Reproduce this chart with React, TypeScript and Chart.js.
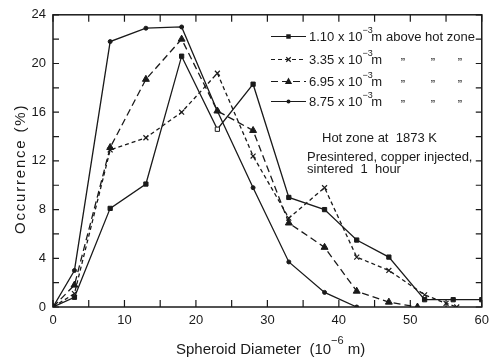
import React, { useEffect, useRef } from "react";
import { Chart, registerables } from "chart.js";

Chart.register(...registerables);

// Spheroid diameter (10^-6 m) and occurrence (%) for each distance above hot zone
const diam110 = [0, 3, 8, 13, 18, 23, 28, 33, 38, 42.5, 47, 52, 56, 60];
const occ110 = [0, 0.8, 8.1, 10.1, 20.6, 14.6, 18.3, 9.0, 8.0, 5.5, 4.1, 0.6, 0.6, 0.6];

const diam335 = [0, 3, 8, 13, 18, 23, 28, 33, 38, 42.5, 47, 52, 55, 56.5];
const occ335 = [0, 1.1, 12.9, 13.9, 16.0, 19.2, 12.4, 7.3, 9.8, 4.1, 3.0, 1.0, 0.3, 0];

const diam695 = [0, 3, 8, 13, 18, 23, 28, 33, 38, 42.5, 47, 51];
const occ695 = [0, 1.8, 13.1, 18.7, 22.0, 16.1, 14.5, 6.9, 4.9, 1.3, 0.4, 0];

const diam875 = [0, 3, 8, 13, 18, 23, 28, 33, 38, 42.5];
const occ875 = [0, 3.0, 21.8, 22.9, 23.0, 16.1, 9.8, 3.7, 1.2, 0];

const legendValues = ["1.10", "3.35", "6.95", "8.75"];
const yTickValues = [0, 4, 8, 12, 16, 20, 24];
const xTickValues = [0, 10, 20, 30, 40, 50, 60];

const INK = "#1a1a1a";
const FONT = "'Liberation Sans', Arial, sans-serif";

function pts(xs: number[], ys: number[]) {
  return xs.map((x, i) => ({ x, y: ys[i] }));
}

function drawMarker(ctx: CanvasRenderingContext2D, style: string, x: number, y: number, r: number) {
  ctx.save();
  ctx.fillStyle = INK;
  ctx.strokeStyle = INK;
  ctx.setLineDash([]);
  ctx.lineWidth = 1.2;
  ctx.beginPath();
  if (style === "rect") {
    const s = r * 1.4;
    ctx.rect(x - s / 2, y - s / 2, s, s);
    ctx.fill();
  } else if (style === "circle") {
    ctx.arc(x, y, r, 0, Math.PI * 2);
    ctx.fill();
  } else if (style === "triangle") {
    ctx.moveTo(x, y - r);
    ctx.lineTo(x + r * 0.9, y + r * 0.6);
    ctx.lineTo(x - r * 0.9, y + r * 0.6);
    ctx.closePath();
    ctx.fill();
  } else if (style === "crossRot") {
    const d = r * 0.7;
    ctx.moveTo(x - d, y - d);
    ctx.lineTo(x + d, y + d);
    ctx.moveTo(x + d, y - d);
    ctx.lineTo(x - d, y + d);
    ctx.stroke();
  }
  ctx.restore();
}

const decorPlugin = {
  id: "decor",
  afterDraw(chart: any) {
    const ctx: CanvasRenderingContext2D = chart.ctx;
    const { left, right, top, bottom } = chart.chartArea;
    const xs = chart.scales.x;
    const ys = chart.scales.y;
    ctx.save();
    ctx.strokeStyle = INK;
    ctx.lineWidth = 1.5;
    ctx.setLineDash([]);
    ctx.strokeRect(left, top, right - left, bottom - top);
    ctx.lineWidth = 1.2;
    ctx.beginPath();
    for (let v = 0; v <= 24; v += 2) {
      const y = ys.getPixelForValue(v);
      ctx.moveTo(left, y);
      ctx.lineTo(left + 6, y);
      ctx.moveTo(right, y);
      ctx.lineTo(right - 6, y);
    }
    for (let v = 0; v <= 60; v += 5) {
      const x = xs.getPixelForValue(v);
      ctx.moveTo(x, bottom);
      ctx.lineTo(x, bottom - 7);
      ctx.moveTo(x, top);
      ctx.lineTo(x, top + 7);
    }
    ctx.stroke();

    ctx.fillStyle = INK;
    ctx.textBaseline = "alphabetic";
    ctx.textAlign = "left";

    // X title with superscript
    const mainFont = `15px ${FONT}`;
    const supFont = `11px ${FONT}`;
    ctx.font = mainFont;
    const p1 = "Spheroid Diameter  (10";
    const p2 = "\u22126";
    const p3 = " m)";
    const w1 = ctx.measureText(p1).width;
    ctx.font = supFont;
    const w2 = ctx.measureText(p2).width;
    let tx = 176;
    const tb = 354;
    ctx.font = mainFont;
    ctx.fillText(p1, tx, tb);
    tx += w1;
    ctx.font = supFont;
    ctx.fillText(p2, tx, tb - 10);
    tx += w2;
    ctx.font = mainFont;
    ctx.fillText(p3, tx, tb);

    // Y title
    ctx.save();
    ctx.translate(25, (top + bottom) / 2 + 8);
    ctx.rotate(-Math.PI / 2);
    ctx.font = `15px ${FONT}`;
    ctx.textAlign = "center";
    (ctx as any).letterSpacing = "1.8px";
    ctx.fillText("Occurrence (%)", 0, 0);
    ctx.restore();

    // Legend
    const rows = [36.5, 59.5, 81.5, 101.5];
    const lx0 = 271;
    const lx1 = 306;
    chart.data.datasets.forEach((ds: any, i: number) => {
      const y = rows[i];
      ctx.save();
      ctx.strokeStyle = INK;
      ctx.lineWidth = 1.2;
      ctx.setLineDash(ds.borderDash || []);
      ctx.beginPath();
      ctx.moveTo(lx0, y);
      ctx.lineTo(lx1, y);
      ctx.stroke();
      ctx.restore();
      drawMarker(ctx, ds.pointStyle, (lx0 + lx1) / 2, y, ds.pointStyle === "triangle" ? 4 : ds.pointStyle === "circle" ? 2 : 3.2);
      const base = y + 4.5;
      let x = 309;
      ctx.font = `13px ${FONT}`;
      const a = `${legendValues[i]} x 10`;
      ctx.fillText(a, x, base);
      x += ctx.measureText(a).width;
      ctx.font = `9px ${FONT}`;
      ctx.fillText("\u22123", x, base - 8);
      x += ctx.measureText("\u22123").width - 1.5;
      ctx.font = `13px ${FONT}`;
      ctx.fillText("m", x, base);
      if (i === 0) {
        ctx.fillText("above hot zone", 386, base);
      } else {
        ctx.textAlign = "center";
        ctx.fillText("\u201D", 403, base + 3);
        ctx.fillText("\u201D", 433, base + 3);
        ctx.fillText("\u201D", 460, base + 3);
        ctx.textAlign = "left";
      }
    });

    ctx.font = `13px ${FONT}`;
    ctx.fillText("Hot zone at  1873 K", 322, 142);
    ctx.fillText("Presintered, copper injected,", 307, 160.5);
    ctx.fillText("sintered  1  hour", 307, 173);
    ctx.restore();
  },
};

export default function App() {
  const ref = useRef<HTMLCanvasElement>(null);
  useEffect(() => {
    if (!ref.current) return;
    const base = {
      borderColor: INK,
      borderWidth: 1.3,
      pointBorderColor: INK,
      pointBackgroundColor: INK,
      tension: 0,
      fill: false,
    };
    const chart = new Chart(ref.current, {
      type: "line",
      data: {
        datasets: [
          {
            ...base,
            label: "1.10",
            data: pts(diam110, occ110),
            pointStyle: "rect",
            pointRadius: 3,
            pointBorderWidth: 1,
            pointBackgroundColor: (c: any) => (c.dataIndex === 5 ? "#ffffff" : INK),
            borderDash: [],
          },
          {
            ...base,
            label: "3.35",
            data: pts(diam335, occ335),
            pointStyle: "crossRot",
            pointRadius: 3.5,
            pointBorderWidth: 1.2,
            borderDash: [4, 3],
          },
          {
            ...base,
            label: "6.95",
            data: pts(diam695, occ695),
            pointStyle: "triangle",
            pointRadius: 4,
            pointBorderWidth: 1,
            borderDash: [7, 4],
          },
          {
            ...base,
            label: "8.75",
            data: pts(diam875, occ875),
            pointStyle: "circle",
            pointRadius: 2,
            pointBorderWidth: 1,
            borderDash: [],
          },
        ] as any,
      },
      options: {
        animation: false,
        responsive: true,
        maintainAspectRatio: false,
        layout: { padding: { top: 12, right: 8, left: 0, bottom: 0 } },
        plugins: { legend: { display: false }, tooltip: { enabled: false } },
        scales: {
          x: {
            type: "linear",
            min: 0,
            max: 60,
            afterFit: (s: any) => {
              s.height = 54;
            },
            afterBuildTicks: (s: any) => {
              s.ticks = xTickValues.map((v) => ({ value: v }));
            },
            grid: { display: false, drawTicks: false },
            border: { display: false },
            ticks: { color: INK, font: { family: FONT, size: 13 }, padding: 6, maxRotation: 0 },
          },
          y: {
            type: "linear",
            min: 0,
            max: 24,
            afterFit: (s: any) => {
              s.width = 53;
            },
            afterBuildTicks: (s: any) => {
              s.ticks = yTickValues.map((v) => ({ value: v }));
            },
            grid: { display: false, drawTicks: false },
            border: { display: false },
            ticks: { color: INK, font: { family: FONT, size: 13 }, padding: 7 },
          },
        },
      } as any,
      plugins: [decorPlugin],
    });
    return () => chart.destroy();
  }, []);
  return (
    <div style={{ position: "fixed", left: 0, top: 0, width: 495, height: 361, background: "#fff" }}>
      <canvas ref={ref} />
    </div>
  );
}
